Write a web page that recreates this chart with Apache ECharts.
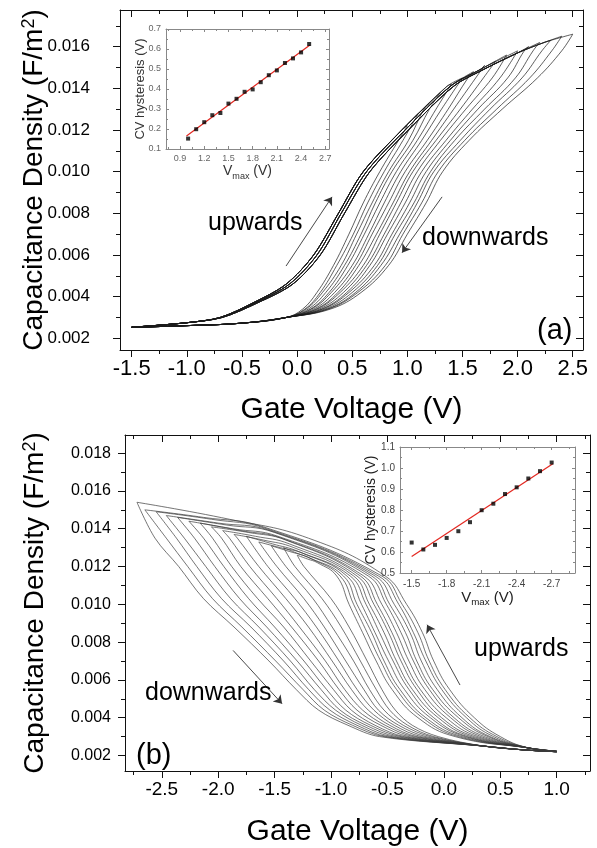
<!DOCTYPE html>
<html>
<head>
<meta charset="utf-8">
<script src="https://cdn.jsdelivr.net/npm/echarts@6/dist/echarts.min.js"></script>
<style>
html, body { margin: 0; padding: 0; background: #fff; }
#chart { width: 597px; height: 848px; }
</style>
</head>
<body>
<div id="chart"></div>
<script>
const FONT = '"Liberation Sans", Arial, sans-serif';

// ---------- panel (a): sweep to +Vmax ----------
// loop tips (Vmax, C at Vmax)
const aTipX = [1.0, 1.1, 1.2, 1.3, 1.4, 1.5, 1.6, 1.7, 1.8, 1.9, 2.0, 2.1, 2.2, 2.3, 2.4, 2.5];
const aTipY = [0.0122, 0.0128, 0.0133, 0.0138, 0.0142, 0.0145, 0.0148, 0.0151, 0.0153, 0.0156, 0.0158, 0.0160, 0.0162, 0.0163, 0.0165, 0.0166];
// upward band (C values and three slightly offset edges of the band)
const aBandY  = [0.00253, 0.00275, 0.0030, 0.0037, 0.0046, 0.0060, 0.0080, 0.0100, 0.0120, 0.0141, 0.0149, 0.0157, 0.0162, 0.0166];
const aBandX1 = [-1.5, -1.0, -0.70, -0.40, -0.10, 0.15, 0.375, 0.60, 0.95, 1.36, 1.63, 1.96, 2.20, 2.5];
const aBandX2 = [-1.5, -1.0, -0.69, -0.38, -0.07, 0.18, 0.40, 0.63, 0.98, 1.39, 1.66, 1.98, 2.22, 2.5];
const aBandX3 = [-1.5, -1.0, -0.68, -0.36, -0.04, 0.21, 0.43, 0.66, 1.01, 1.42, 1.69, 2.00, 2.24, 2.5];
// downward sweeps: shared low tail, then x of each loop at fixed C levels
const aLowX = [-1.5, -1.0, -0.5, -0.1];
const aLowY = [0.00253, 0.00261, 0.00273, 0.0030];
const aDownLv = [0.0034, 0.0042, 0.0055, 0.0070, 0.0085, 0.0100, 0.0115, 0.0130, 0.0145, 0.0158];
const aDownX = [
  [0.05, 0.07, 0.08, 0.10, 0.12, 0.13, 0.15, 0.17, 0.18, 0.20, 0.22, 0.23, 0.25, 0.27, 0.28, 0.30],
  [0.18, 0.21, 0.23, 0.26, 0.29, 0.31, 0.34, 0.37, 0.39, 0.42, 0.45, 0.47, 0.50, 0.53, 0.55, 0.58],
  [0.33, 0.36, 0.40, 0.43, 0.46, 0.50, 0.53, 0.56, 0.60, 0.63, 0.66, 0.70, 0.73, 0.76, 0.80, 0.83],
  [0.47, 0.51, 0.54, 0.58, 0.61, 0.65, 0.68, 0.72, 0.75, 0.79, 0.82, 0.86, 0.89, 0.93, 0.96, 1.00],
  [0.60, 0.64, 0.68, 0.71, 0.75, 0.79, 0.83, 0.87, 0.90, 0.94, 0.98, 1.02, 1.06, 1.09, 1.13, 1.17],
  [0.75, 0.79, 0.83, 0.86, 0.90, 0.94, 0.98, 1.02, 1.05, 1.09, 1.13, 1.17, 1.21, 1.24, 1.28, 1.32],
  [0.92, 0.96, 1.01, 1.05, 1.09, 1.13, 1.18, 1.22, 1.26, 1.30, 1.35, 1.39, 1.43, 1.48, 1.52, 1.56],
  [null, null, 1.15, 1.20, 1.26, 1.31, 1.37, 1.42, 1.48, 1.53, 1.59, 1.64, 1.70, 1.75, 1.81, 1.86],
  [null, null, null, null, null, null, 1.55, 1.62, 1.69, 1.77, 1.84, 1.91, 1.98, 2.04, 2.11, 2.18],
  [null, null, null, null, null, null, null, null, null, null, null, 2.06, 2.14, 2.22, 2.31, 2.40]
];
// inset (a)
const aInsetX = [1.0, 1.1, 1.2, 1.3, 1.4, 1.5, 1.6, 1.7, 1.8, 1.9, 2.0, 2.1, 2.2, 2.3, 2.4, 2.5];
const aInsetY = [0.152, 0.199, 0.234, 0.269, 0.280, 0.327, 0.351, 0.386, 0.398, 0.434, 0.469, 0.493, 0.530, 0.553, 0.583, 0.625];
const aFitX = [0.98, 2.51];
const aFitY = [0.165, 0.620];
// annotation arrows (data coords)
const aArrowUp = [[-0.10, 0.00547], [0.317, 0.00879]];
const aArrowDown = [[1.315, 0.00879], [0.952, 0.00611]];

// ---------- panel (b): sweep to -Vmax ----------
const bTipX = [-1.30, -1.42, -1.53, -1.64, -1.75, -1.86, -1.96, -2.06, -2.16, -2.26, -2.36, -2.46, -2.55, -2.65, -2.72];
const bTipY = [0.0126, 0.0130, 0.0131, 0.0133, 0.0136, 0.0137, 0.0139, 0.0141, 0.0143, 0.0144, 0.0146, 0.0147, 0.0149, 0.0150, 0.0154];
// flat upper part of the upward sweeps
const bFlat2X = [-1.21, -1.30, -1.37, -1.45, -1.52, -1.60, -1.67, -1.73, -1.80, -1.87, -1.93, -2.00, -2.06, -2.13, -1.90];
const bFlat2Y = [0.0124, 0.0127, 0.0128, 0.0130, 0.0132, 0.0134, 0.0136, 0.0138, 0.0139, 0.0140, 0.0142, 0.0143, 0.0145, 0.0146, 0.0145];
const bFlat1X = [-1.12, -1.17, -1.21, -1.25, -1.29, -1.33, -1.37, -1.40, -1.44, -1.47, -1.50, -1.54, -1.57, -1.60, -1.20];
const bFlat1Y = [0.0122, 0.0124, 0.0125, 0.0127, 0.0128, 0.0130, 0.0132, 0.0134, 0.0135, 0.0136, 0.0138, 0.0139, 0.0140, 0.0141, 0.0135];
// upward sweeps: x of each loop at fixed C levels (top to bottom)
const bUpLv = [0.0115, 0.0100, 0.0085, 0.0070, 0.0055, 0.0040, 0.0030];
const bUpX = [
  [-0.95, -0.92, -0.89, -0.86, -0.83, -0.80, -0.77, -0.74, -0.71, -0.67, -0.64, -0.61, -0.58, -0.55, -0.52],
  [-0.84, -0.80, -0.77, -0.73, -0.69, -0.66, -0.62, -0.59, -0.55, -0.51, -0.48, -0.44, -0.40, -0.37, -0.33],
  [-0.72, -0.68, -0.64, -0.61, -0.57, -0.53, -0.49, -0.46, -0.42, -0.38, -0.34, -0.30, -0.27, -0.23, -0.19],
  [-0.60, -0.56, -0.53, -0.49, -0.45, -0.42, -0.38, -0.35, -0.31, -0.27, -0.24, -0.20, -0.16, -0.13, -0.09],
  [-0.46, -0.42, -0.39, -0.35, -0.31, -0.28, -0.24, -0.21, -0.17, -0.13, -0.10, -0.06, -0.02, 0.01, 0.05],
  [-0.23, -0.19, -0.16, -0.12, -0.09, -0.05, -0.02, 0.02, 0.06, 0.09, 0.13, 0.16, 0.20, 0.23, 0.27],
  [0.10, 0.13, 0.16, 0.19, 0.21, 0.24, 0.27, 0.30, 0.33, 0.36, 0.39, 0.41, 0.44, 0.47, 0.50]
];
const bUpHeadX = [0.75, 1.0];
const bUpHeadY = [0.0024, 0.00222];
// downward sweeps: x of each loop at fixed C levels (top to bottom)
const bDownLv = [0.0135, 0.0120, 0.0103, 0.0088, 0.0070, 0.0055, 0.0044, 0.0036, 0.0030];
const bDownX = [
  [null, null, null, null, null, -1.83, -1.90, -1.97, -2.05, -2.13, -2.21, -2.30, -2.37, -2.46, -2.56],
  [-1.24, -1.32, -1.40, -1.48, -1.56, -1.64, -1.72, -1.80, -1.88, -1.95, -2.03, -2.11, -2.19, -2.27, -2.35],
  [-1.00, -1.08, -1.16, -1.24, -1.32, -1.40, -1.48, -1.56, -1.65, -1.73, -1.81, -1.89, -1.97, -2.05, -2.13],
  [-0.84, -0.91, -0.99, -1.06, -1.13, -1.20, -1.28, -1.35, -1.42, -1.50, -1.57, -1.64, -1.71, -1.79, -1.86],
  [-0.68, -0.74, -0.80, -0.87, -0.93, -0.99, -1.05, -1.11, -1.18, -1.24, -1.30, -1.36, -1.42, -1.49, -1.55],
  [-0.55, -0.60, -0.66, -0.71, -0.77, -0.82, -0.88, -0.93, -0.98, -1.04, -1.09, -1.15, -1.20, -1.25, -1.31],
  [-0.43, -0.48, -0.53, -0.58, -0.62, -0.67, -0.72, -0.77, -0.82, -0.87, -0.92, -0.96, -1.01, -1.06, -1.11],
  [-0.28, -0.32, -0.36, -0.40, -0.44, -0.48, -0.52, -0.56, -0.61, -0.65, -0.69, -0.73, -0.77, -0.81, -0.85],
  [-0.05, -0.09, -0.12, -0.16, -0.20, -0.24, -0.27, -0.31, -0.35, -0.38, -0.42, -0.46, -0.50, -0.53, -0.57]
];
const bDownTailX = [0.35, 0.7, 1.0];
const bDownTailY = [0.0025, 0.0023, 0.0022];
// inset (b)
const bInsetX = [-1.5, -1.6, -1.7, -1.8, -1.9, -2.0, -2.1, -2.2, -2.3, -2.4, -2.5, -2.6, -2.7];
const bInsetY = [0.645, 0.612, 0.634, 0.667, 0.699, 0.742, 0.799, 0.830, 0.876, 0.908, 0.950, 0.985, 1.026];
const bFitX = [-1.5, -2.71];
const bFitY = [0.578, 1.02];
const bArrowUp = [[0.143, 0.00573], [-0.149, 0.00892]];
const bArrowDown = [[-1.868, 0.00756], [-1.434, 0.00474]];

// tick positions
const aXMajor = [-1.5, -1.0, -0.5, 0, 0.5, 1.0, 1.5, 2.0, 2.5];
const aXMinor = [-1.25, -0.75, -0.25, 0.25, 0.75, 1.25, 1.75, 2.25];
const aYMajor = [0.002, 0.004, 0.006, 0.008, 0.010, 0.012, 0.014, 0.016];
const aYMinor = [0.003, 0.005, 0.007, 0.009, 0.011, 0.013, 0.015, 0.017];
const bXMajor = [-2.5, -2.0, -1.5, -1.0, -0.5, 0, 0.5, 1.0];
const bXMinor = [-2.75, -2.25, -1.75, -1.25, -0.75, -0.25, 0.25, 0.75, 1.25];
const bYMajor = [0.002, 0.004, 0.006, 0.008, 0.010, 0.012, 0.014, 0.016, 0.018];
const bYMinor = [0.003, 0.005, 0.007, 0.009, 0.011, 0.013, 0.015, 0.017];
const aInXMajor = [0.9, 1.2, 1.5, 1.8, 2.1, 2.4, 2.7];
const aInXMinor = [0.75, 1.05, 1.35, 1.65, 1.95, 2.25, 2.55];
const aInYMajor = [0.1, 0.2, 0.3, 0.4, 0.5, 0.6, 0.7];
const aInYMinor = [0.15, 0.25, 0.35, 0.45, 0.55, 0.65];
const bInXMajor = [-1.5, -1.8, -2.1, -2.4, -2.7];
const bInXMinor = [-1.65, -1.95, -2.25, -2.55, -2.85];
const bInYMajor = [0.5, 0.6, 0.7, 0.8, 0.9, 1.0, 1.1];
const bInYMinor = [0.55, 0.65, 0.75, 0.85, 0.95, 1.05];

const xAxes = [];
const yAxes = [];

// four framed sides, each with a major and a minor tick axis
function frame(g, X, Y, o) {
    const ls = { color: o.color, width: 1 };
    const xi = xAxes.length, yi = yAxes.length;
    ['bottom', 'top'].forEach((pos, k) => {
        const main = k === 0;
        const inside = main ? o.inside : true;
        xAxes.push({
            type: 'value', gridIndex: g, position: pos, min: X.min, max: X.max, inverse: !!X.inverse,
            splitLine: { show: false },
            axisLine: { show: true, onZero: false, lineStyle: ls },
            axisTick: { show: true, inside: inside, length: o.major, customValues: X.major, lineStyle: ls },
            axisLabel: { show: main, customValues: X.major, formatter: v => v.toFixed(X.dec), fontSize: X.font, color: o.labelColor, margin: X.margin, fontFamily: FONT },
            name: main ? X.name : '', nameLocation: 'middle', nameGap: X.nameGap, nameTextStyle: X.nameStyle
        });
        xAxes.push({
            type: 'value', gridIndex: g, position: pos, min: X.min, max: X.max, inverse: !!X.inverse,
            splitLine: { show: false },
            axisLine: { show: false, onZero: false },
            axisTick: { show: true, inside: inside, length: o.minor, customValues: X.minor, lineStyle: ls },
            axisLabel: { show: false }
        });
    });
    ['left', 'right'].forEach((pos, k) => {
        const main = k === 0;
        const inside = main ? o.inside : true;
        yAxes.push({
            type: 'value', gridIndex: g, position: pos, min: Y.min, max: Y.max,
            splitLine: { show: false },
            axisLine: { show: true, onZero: false, lineStyle: ls },
            axisTick: { show: true, inside: inside, length: o.major, customValues: Y.major, lineStyle: ls },
            axisLabel: { show: main, customValues: Y.major, formatter: v => v.toFixed(Y.dec), fontSize: Y.font, color: o.labelColor, margin: Y.margin, fontFamily: FONT },
            name: main ? Y.name : '', nameLocation: 'middle', nameGap: Y.nameGap, nameTextStyle: Y.nameStyle,
            nameMoveOverlap: false
        });
        yAxes.push({
            type: 'value', gridIndex: g, position: pos, min: Y.min, max: Y.max,
            splitLine: { show: false },
            axisLine: { show: false, onZero: false },
            axisTick: { show: true, inside: inside, length: o.minor, customValues: Y.minor, lineStyle: ls },
            axisLabel: { show: false }
        });
    });
    return [xi, yi];
}

const capName = '{a|Capacitance Density (F/m}{s|2}{a|)}';
const capRich = {
    a: { fontSize: 28, color: '#000', fontFamily: FONT },
    s: { fontSize: 18, color: '#000', fontFamily: FONT, verticalAlign: 'top', padding: [0, 0, 10, 0] }
};
const vmaxName = '{v|V}{s|max}{v| (V)}';
function vmaxRich(size, color) {
    return {
        v: { fontSize: size, color: color, fontFamily: FONT },
        s: { fontSize: size * 0.65, color: color, fontFamily: FONT, verticalAlign: 'bottom', padding: [10, 0, 0, 0] }
    };
}

const A = frame(0,
    { min: -1.606, max: 2.593, major: aXMajor, minor: aXMinor, dec: 1, font: 22, margin: 8,
      name: 'Gate Voltage (V)', nameGap: 45, nameStyle: { fontSize: 30, color: '#000', fontFamily: FONT } },
    { min: 0.00144, max: 0.01776, major: aYMajor, minor: aYMinor, dec: 3, font: 17, margin: 30,
      name: capName, nameGap: 72, nameStyle: { rich: capRich } },
    { color: '#111', labelColor: '#000', inside: false, major: 7, minor: 4 });
const B = frame(1,
    { min: -2.826, max: 1.295, major: bXMajor, minor: bXMinor, dec: 1, font: 19, margin: 9,
      name: 'Gate Voltage (V)', nameGap: 46, nameStyle: { fontSize: 30, color: '#000', fontFamily: FONT } },
    { min: 0.00118, max: 0.01896, major: bYMajor, minor: bYMinor, dec: 3, font: 16, margin: 14,
      name: capName, nameGap: 76, nameStyle: { rich: capRich } },
    { color: '#111', labelColor: '#000', inside: false, major: 7, minor: 4 });
const AI = frame(2,
    { min: 0.726, max: 2.746, major: aInXMajor, minor: aInXMinor, dec: 1, font: 9, margin: 5,
      name: vmaxName, nameGap: 13, nameStyle: { rich: vmaxRich(14, '#333') } },
    { min: 0.1, max: 0.7, major: aInYMajor, minor: aInYMinor, dec: 1, font: 9, margin: 5,
      name: 'CV hysteresis (V)', nameGap: 19, nameStyle: { fontSize: 13, color: '#333', fontFamily: FONT } },
    { color: '#888', labelColor: '#666', inside: true, major: 3, minor: 2 });
const BI = frame(3,
    { min: -2.9, max: -1.4, inverse: true, major: bInXMajor, minor: bInXMinor, dec: 1, font: 10, margin: 6,
      name: vmaxName, nameGap: 14, nameStyle: { rich: vmaxRich(15, '#222') } },
    { min: 0.5, max: 1.1, major: bInYMajor, minor: bInYMinor, dec: 1, font: 10, margin: 5,
      name: 'CV hysteresis (V)', nameGap: 22, nameStyle: { fontSize: 14, color: '#222', fontFamily: FONT } },
    { color: '#888', labelColor: '#444', inside: true, major: 3, minor: 2 });

const series = [];
function curve(ax, pts, color, smooth) {
    series.push({
        type: 'line', xAxisIndex: ax[0], yAxisIndex: ax[1], data: pts,
        showSymbol: false, smooth: smooth, silent: true,
        lineStyle: { color: color, width: 0.7 }, z: 3
    });
}
function arrow(ax, coords) {
    series.push({
        type: 'lines', coordinateSystem: 'cartesian2d', xAxisIndex: ax[0], yAxisIndex: ax[1],
        data: [{ coords: coords }], symbol: ['none', 'arrow'], symbolSize: 8, silent: true,
        lineStyle: { color: '#333', width: 0.9, opacity: 1 }, z: 5
    });
}

// panel (a) loops
aTipX.forEach((tx, i) => {
    const band = i < 6 ? aBandX1 : (i < 11 ? aBandX2 : aBandX3);
    const up = [];
    band.forEach((x, k) => { if (x < tx - 0.03) up.push([x, aBandY[k]]); });
    up.push([tx, aTipY[i]]);
    curve(A, up, '#1a1a1a', 0.3);
    const down = aLowX.map((x, k) => [x, aLowY[k]]);
    aDownLv.forEach((lv, r) => { if (aDownX[r][i] != null) down.push([aDownX[r][i], lv]); });
    down.push([tx, aTipY[i]]);
    curve(A, down, '#1a1a1a', 0.4);
});

// panel (b) loops
bTipX.forEach((tx, j) => {
    const up = [[tx, bTipY[j]], [bFlat2X[j], bFlat2Y[j]], [bFlat1X[j], bFlat1Y[j]]];
    bUpLv.forEach((lv, r) => up.push([bUpX[r][j], lv]));
    bUpHeadX.forEach((x, k) => up.push([x, bUpHeadY[k]]));
    curve(B, up, '#3a3a3a', 0.45);
    const down = [[tx, bTipY[j]]];
    bDownLv.forEach((lv, r) => { if (bDownX[r][j] != null) down.push([bDownX[r][j], lv]); });
    bDownTailX.forEach((x, k) => down.push([x, bDownTailY[k]]));
    curve(B, down, '#3a3a3a', 0.35);
});

// insets
series.push({
    type: 'line', xAxisIndex: AI[0], yAxisIndex: AI[1], data: aFitX.map((x, k) => [x, aFitY[k]]),
    showSymbol: false, lineStyle: { color: '#e3261f', width: 1.2 }, silent: true, z: 4
});
series.push({
    type: 'scatter', xAxisIndex: AI[0], yAxisIndex: AI[1], data: aInsetX.map((x, k) => [x, aInsetY[k]]),
    symbol: 'rect', symbolSize: 4, itemStyle: { color: '#000' }, silent: true, z: 5
});
series.push({
    type: 'line', xAxisIndex: BI[0], yAxisIndex: BI[1], data: bFitX.map((x, k) => [x, bFitY[k]]),
    showSymbol: false, lineStyle: { color: '#e3261f', width: 1.2 }, silent: true, z: 4
});
series.push({
    type: 'scatter', xAxisIndex: BI[0], yAxisIndex: BI[1], data: bInsetX.map((x, k) => [x, bInsetY[k]]),
    symbol: 'rect', symbolSize: 4, itemStyle: { color: '#000' }, silent: true, z: 5
});

arrow(A, aArrowUp);
arrow(A, aArrowDown);
arrow(B, bArrowUp);
arrow(B, bArrowDown);

function label(text, left, top, size) {
    return { type: 'text', left: left, top: top, z: 10, style: { text: text, font: size + 'px ' + FONT, fill: '#000' } };
}

const chart = echarts.init(document.getElementById('chart'), null, { renderer: 'canvas' });
chart.setOption({
    animation: false,
    backgroundColor: '#fff',
    textStyle: { fontFamily: FONT },
    grid: [
        { left: 120, top: 10, width: 463, height: 340 },
        { left: 125, top: 435, width: 465, height: 340 },
        { left: 166, top: 29, width: 163, height: 120 },
        { left: 400, top: 447, width: 175, height: 126 }
    ],
    xAxis: xAxes,
    yAxis: yAxes,
    series: series,
    graphic: [
        label('upwards', 208, 211, 25),
        label('downwards', 422, 226, 25),
        label('(a)', 537, 316, 29),
        label('upwards', 474, 637, 25),
        label('downwards', 145, 681, 25),
        label('(b)', 136, 741, 29)
    ]
});
</script>
</body>
</html>
